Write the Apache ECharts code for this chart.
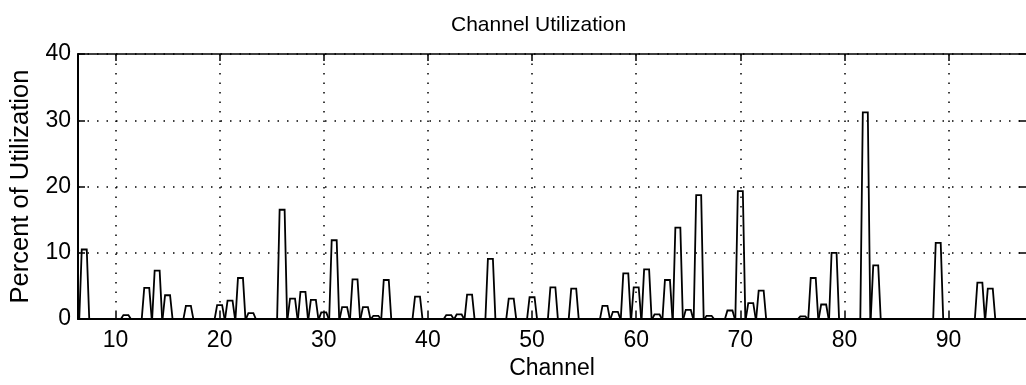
<!DOCTYPE html>
<html>
<head>
<meta charset="utf-8">
<script src="https://cdn.jsdelivr.net/npm/echarts@6/dist/echarts.min.js"></script>
<style>
  html, body { margin: 0; padding: 0; background: #fff; }
  #chart { width: 1026px; height: 385px; }
</style>
</head>
<body>
<div id="chart"></div>
<script>
// channels that carry traffic and their utilization (%)
const channels = [7, 11, 13, 14, 15, 17, 20, 21, 22, 23, 26, 27, 28, 29, 30, 31, 32, 33, 34, 35,
  36, 39, 42, 43, 44, 46, 48, 50, 52, 54, 57, 58, 59, 60, 61, 62, 63, 64, 65, 66,
  67, 69, 70, 71, 72, 76, 77, 78, 79, 82, 83, 89, 93, 94];
const utilization = [10.5, 0.6, 4.7, 7.3, 3.6, 2.0, 2.1, 2.8, 6.2, 0.9, 16.5, 3.1, 4.1, 2.9, 1.0, 11.9, 1.8, 6.0, 1.8, 0.5,
  5.9, 3.4, 0.6, 0.7, 3.7, 9.1, 3.1, 3.3, 4.8, 4.6, 2.0, 1.1, 6.9, 4.8, 7.5, 0.7, 5.9, 13.8, 1.4, 18.7,
  0.5, 1.3, 19.3, 2.4, 4.3, 0.4, 6.2, 2.2, 10.0, 31.2, 8.1, 11.5, 5.5, 4.6];
const xTicks = [10, 20, 30, 40, 50, 60, 70, 80, 90];

const font = 'Arial, "Liberation Sans", Helvetica, sans-serif';
const dotted = { color: '#000', width: 1.5, type: [1.5, 8] };

const chart = echarts.init(document.getElementById('chart'));

chart.setOption({
  animation: false,
  backgroundColor: '#fff',
  title: {
    text: 'Channel Utilization',
    left: 446,
    top: 10,
    textStyle: { fontFamily: font, fontSize: 21, fontWeight: 'normal', color: '#000' }
  },
  grid: { left: 74, right: -2, top: 54, bottom: 64 },
  xAxis: [
    {
      type: 'value', min: 6.4, max: 97.43, position: 'bottom',
      name: 'Channel', nameLocation: 'middle', nameGap: 36,
      nameTextStyle: { fontFamily: font, fontSize: 23, color: '#000' },
      axisLine: { onZero: false, lineStyle: { color: '#000', width: 2 } },
      axisTick: { inside: true, length: 7, customValues: xTicks, lineStyle: { color: '#000', width: 1.5 } },
      axisLabel: { customValues: xTicks, margin: 10, fontFamily: font, fontSize: 23, color: '#000' },
      splitLine: { show: true, lineStyle: dotted }
    },
    {
      type: 'value', min: 6.4, max: 97.43, position: 'top',
      axisLine: { onZero: false, lineStyle: { color: '#000', width: 1.5 } },
      axisTick: { inside: true, length: 7, customValues: xTicks, lineStyle: { color: '#000', width: 1.5 } },
      axisLabel: { show: false },
      splitLine: { show: false }
    }
  ],
  yAxis: [
    {
      type: 'value', min: 0, max: 40, interval: 10, position: 'left',
      name: 'Percent of Utilization', nameLocation: 'middle', nameGap: 44,
      nameTextStyle: { fontFamily: font, fontSize: 25.5, color: '#000' },
      axisLine: { show: true, lineStyle: { color: '#000', width: 2 } },
      axisTick: { show: true, inside: true, length: 7, lineStyle: { color: '#000', width: 1.5 } },
      axisLabel: { margin: 7, fontFamily: font, fontSize: 23, color: '#000' },
      splitLine: { show: true, lineStyle: dotted }
    },
    {
      type: 'value', min: 0, max: 40, interval: 10, position: 'right',
      axisLine: { show: false },
      axisTick: { show: true, inside: true, length: 7, lineStyle: { color: '#000', width: 1.5 } },
      axisLabel: { show: false },
      splitLine: { show: false }
    }
  ],
  series: [
    {
      type: 'custom',
      clip: true,
      data: channels.map((c, i) => [c, utilization[i]]),
      renderItem: function (params, api) {
        const c = api.value(0);
        const v = api.value(1);
        return {
          type: 'polyline',
          shape: {
            points: [
              api.coord([c - 0.48, 0]),
              api.coord([c - 0.24, v]),
              api.coord([c + 0.24, v]),
              api.coord([c + 0.48, 0])
            ]
          },
          style: { stroke: '#000', lineWidth: 1.8, fill: null }
        };
      }
    }
  ]
});
</script>
</body>
</html>
